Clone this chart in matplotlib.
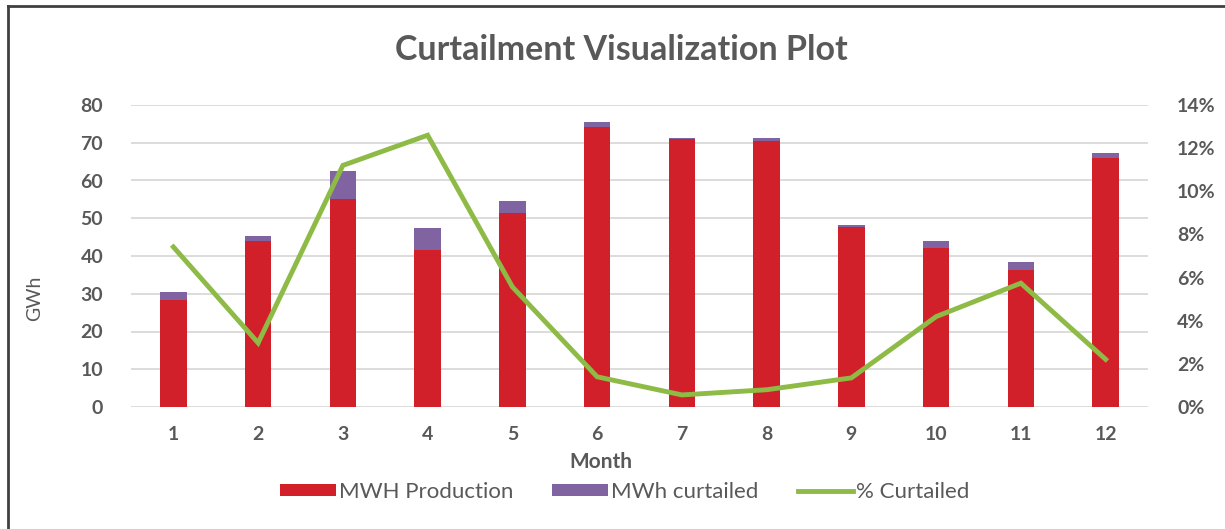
import matplotlib
matplotlib.use("Agg")
import matplotlib.pyplot as plt
from matplotlib.lines import Line2D
from matplotlib.ticker import FuncFormatter

plt.rcParams['font.family'] = ['Lato', 'DejaVu Sans']

months = [1, 2, 3, 4, 5, 6, 7, 8, 9, 10, 11, 12]
production = [28.3, 44.0, 55.1, 41.6, 51.4, 74.3, 70.9, 70.5, 47.8, 42.1, 36.3, 65.9]
curtailed = [2.2, 1.3, 7.4, 5.8, 3.2, 1.2, 0.4, 0.8, 0.4, 2.0, 2.0, 1.3]
pct_curtailed = [7.42, 2.97, 11.2, 12.6, 5.57, 1.4, 0.56, 0.8, 1.35, 4.19, 5.74, 2.21]

GRAY = '#595959'
RED = '#D2202A'
PURPLE = '#8064A2'
GREEN = '#8DBB46'

W, H = 1225, 529
fig = plt.figure(figsize=(W / 100, H / 100), dpi=100)
ax = fig.add_axes([131 / W, 1 - 407 / H, (1148 - 131) / W, (407 - 105) / H])
ax2 = ax.twinx()

b1 = ax.bar(months, production, width=0.31, color=RED, zorder=2, label='MWH Production')
b2 = ax.bar(months, curtailed, width=0.31, bottom=production, color=PURPLE, zorder=2, label='MWh curtailed')
l1, = ax2.plot(months, pct_curtailed, color=GREEN, lw=3.5, label='% Curtailed', solid_joinstyle='miter')

ax.set_xlim(0.5, 12.5)
ax.set_ylim(0, 80)
ax.set_yticks(range(0, 81, 10))
ax2.set_ylim(0, 14)
ax2.set_yticks([0, 2, 4, 6, 8, 10, 12, 14])
ax2.yaxis.set_major_formatter(FuncFormatter(lambda v, p: f'{int(v)}%'))
ax.set_xticks(months)

ax.grid(axis='y', color='#D9D9D9', lw=1.3, zorder=0)
ax.set_axisbelow(True)
for a in (ax, ax2):
    for s in a.spines.values():
        s.set_visible(False)
    a.tick_params(length=0, colors=GRAY, labelsize=14)
for lab in ax.get_yticklabels() + ax.get_xticklabels() + ax2.get_yticklabels():
    lab.set_fontweight('bold')
ax.tick_params(axis='y', pad=20)
ax2.tick_params(axis='y', pad=21)
ax.tick_params(axis='x', pad=14)

ax.set_xlabel('Month', color=GRAY, fontsize=15, fontweight='bold')
ax.xaxis.set_label_coords((601 - 131) / (1148 - 131), (407 - 462) / (407 - 105))
ax.xaxis.label.set_va('center')
ax.set_ylabel('GWh', color=GRAY, fontsize=14)
ax.yaxis.set_label_coords((35 - 131) / (1148 - 131), (407 - 298) / (407 - 105))
ax.yaxis.label.set_va('center')

fig.text(621 / W, 1 - 50 / H, 'Curtailment Visualization Plot',
         ha='center', va='center', fontsize=24.5, fontweight='bold', color=GRAY)

leg = fig.legend([b1, b2, l1], ['MWH Production', 'MWh curtailed', '% Curtailed'],
                 loc='center', bbox_to_anchor=(625 / W, 1 - 492 / H), ncol=3, frameon=False,
                 fontsize=16, handlelength=2.5, handleheight=0.5, columnspacing=1.75,
                 handletextpad=0.15)
for t in leg.get_texts():
    t.set_color(GRAY)

fig.add_artist(Line2D([8 / W, 8 / W], [0, 1 - 6 / H], color='#404040', lw=2, transform=fig.transFigure))
fig.add_artist(Line2D([8 / W, 1], [1 - 6 / H, 1 - 6 / H], color='#404040', lw=2, transform=fig.transFigure))

fig.savefig('out.png', dpi=100)
